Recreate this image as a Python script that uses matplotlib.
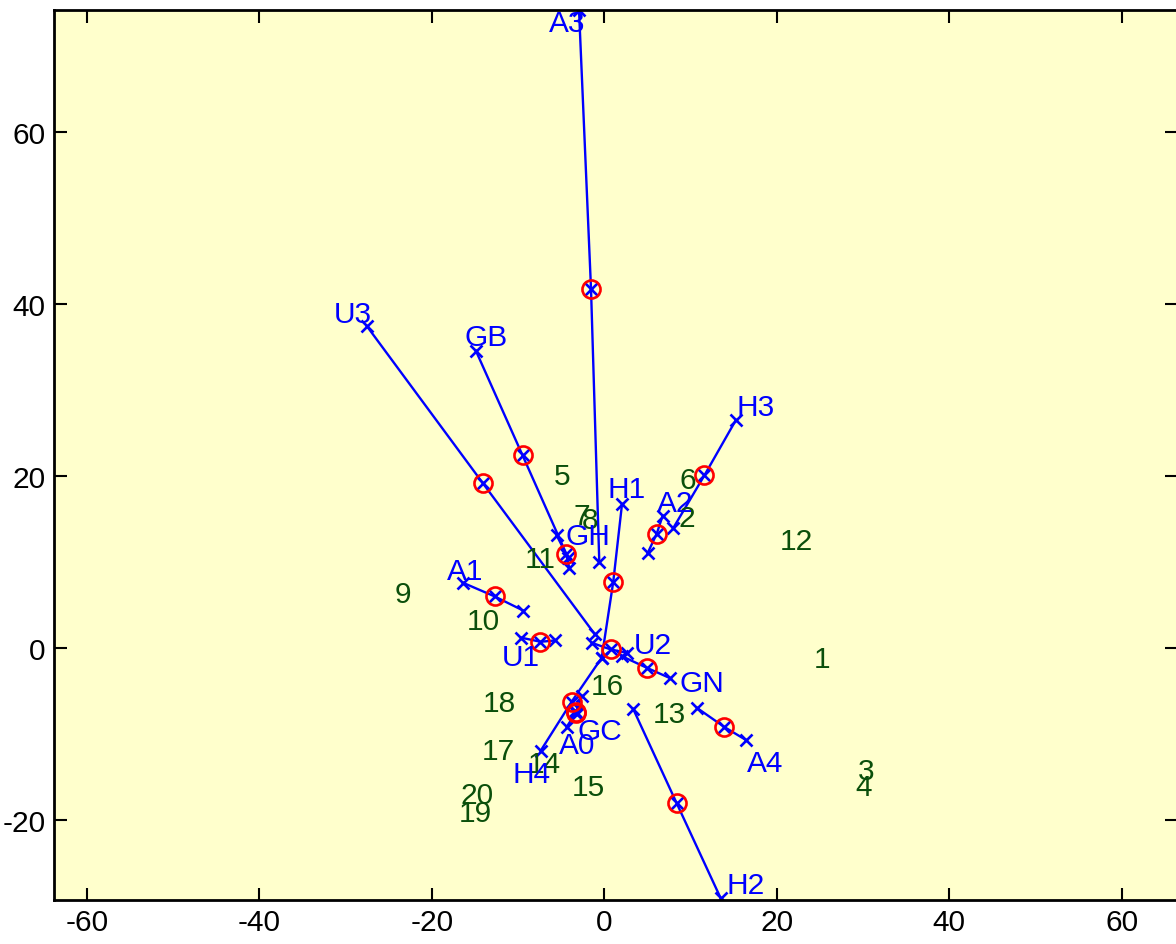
import matplotlib
matplotlib.use("Agg")
import matplotlib.pyplot as plt

# variable vectors: labelled end, far end, centre (circled)
names = ["A3", "U3", "GB", "H3", "H1", "A2", "GH", "A1",
         "U1", "U2", "GN", "A4", "H2", "H4", "A0", "GC"]
end_x = [-2.93, -27.5, -14.9, 15.25, 2.05, 6.77, -5.52, -16.4,
         -9.6, 2.6, 7.62, 16.44, 13.5, -7.38, -4.36, -3.4]
end_y = [74.2, 37.4, 34.6, 26.5, 16.7, 15.4, 13.1, 7.6,
         1.2, -0.55, -3.5, -10.7, -29.1, -11.95, -9.17, -7.3]
far_x = [-0.58, -1.08, -4.2, 8.0, -0.3, 5.03, -4.06, -9.4,
         -5.7, -1.46, 2.0, 10.8, 3.36, -0.3, -2.62, -3.2]
far_y = [10.0, 1.58, 10.5, 13.96, -1.13, 11.05, 9.3, 4.36,
         0.88, 0.61, -0.93, -7.0, -7.1, -1.13, -5.57, -7.65]
mid_x = [-1.54, -14.1, -9.47, 11.6, 1.04, 6.08, -4.4, -12.7,
         -7.4, 0.74, 4.92, 13.9, 8.4, -3.78, -3.28, -3.3]
mid_y = [41.8, 19.2, 22.4, 20.07, 7.7, 13.3, 10.9, 6.0,
         0.73, -0.16, -2.29, -9.17, -18.06, -6.23, -7.5, -7.47]
label_x = [-4.33, -29.2, -13.7, 17.5, 2.6, 8.2, -1.9, -16.1,
           -9.7, 5.6, 11.3, 18.6, 16.4, -8.4, -3.2, -0.5]
label_y = [72.7, 38.8, 36.2, 28.0, 18.5, 16.9, 13.0, 9.0,
           -1.0, 0.4, -4.1, -13.4, -27.5, -14.7, -11.25, -9.6]

# observation scores (numbered points)
obs = [str(i) for i in range(1, 21)]
obs_x = [25.2, 9.6, 30.4, 30.1, -4.9, 9.7, -2.6, -1.6, -23.3, -14.0,
         -7.4, 22.3, 7.6, -6.9, -1.85, 0.4, -12.3, -12.2, -15.0, -14.8]
obs_y = [-1.3, 15.1, -14.35, -16.2, 20.0, 19.5, 15.3, 14.9, 6.3, 3.1,
         10.4, 12.4, -7.7, -13.5, -16.2, -4.4, -11.95, -6.35, -19.2, -17.1]

BLUE = "#0000ff"
GREEN = "#0b4f0b"
FS = 21.5

plt.rcParams["font.family"] = ["Liberation Sans", "DejaVu Sans"]
plt.rcParams["axes.unicode_minus"] = False

fig = plt.figure(figsize=(11.76, 9.45), dpi=100)
ax = fig.add_axes([54 / 1176, 44 / 945, 1123 / 1176, 890 / 945])
ax.set_facecolor("#ffffcc")

for n, x, y in zip(obs, obs_x, obs_y):
    ax.text(x, y, n, color=GREEN, fontsize=FS, ha="center", va="center")

for i in range(len(names)):
    ax.plot([end_x[i], mid_x[i], far_x[i]], [end_y[i], mid_y[i], far_y[i]],
            "x-", color=BLUE, lw=1.7, ms=9, mew=1.9)
ax.plot(mid_x, mid_y, "o", mfc="none", mec="red", ms=13, mew=1.9, ls="none")

for n, x, y in zip(names, label_x, label_y):
    ax.text(x, y, n, color=BLUE, fontsize=FS, ha="center", va="center")

ax.set_xlim(-63.8, 66.4)
ax.set_ylim(-29.3, 74.2)
ax.set_xticks([-60, -40, -20, 0, 20, 40, 60])
ax.set_yticks([-20, 0, 20, 40, 60])
ax.tick_params(direction="in", top=True, right=True, length=9, width=1.5,
               labelsize=FS, pad=6)
for s in ax.spines.values():
    s.set_linewidth(2)

fig.savefig("out.png", dpi=100)
